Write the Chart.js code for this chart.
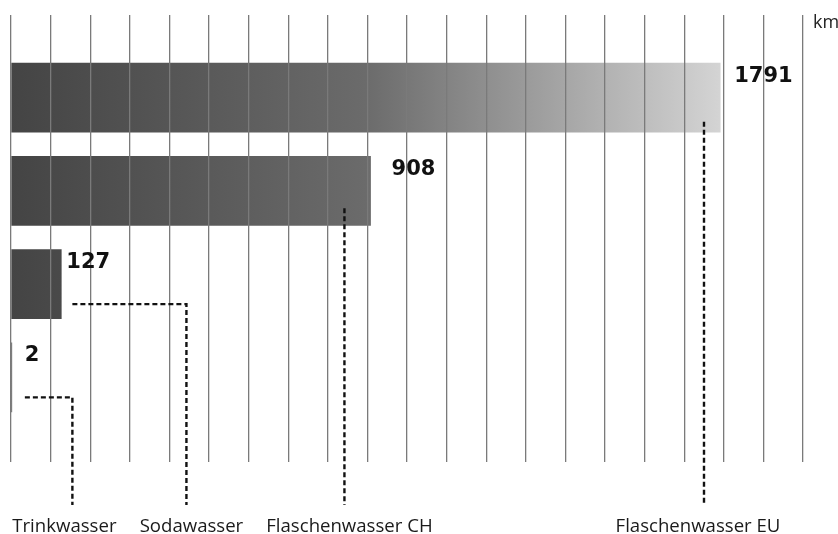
<!DOCTYPE html>
<html>
<head>
<meta charset="utf-8">
<script src="https://cdn.jsdelivr.net/npm/chart.js@4/dist/chart.umd.min.js"></script>
<style>
  html, body { margin: 0; padding: 0; background: #fff; }
  #wrap { width: 838px; height: 534px; }
</style>
</head>
<body>
<div id="wrap"><canvas id="distChart"></canvas></div>
<script>
// transport distance in km, top bar to bottom bar
const categories = ["Flaschenwasser EU", "Flaschenwasser CH", "Sodawasser", "Trinkwasser"];
const distances = [1791, 908, 127, 2];
const unitLabel = "km";
const axisMax = 2000;

// where each value label sits after its bar end (px)
const labelNudge = [14, 21, 5, 13];
// shift of each category name from its leader line (px)
const nameShift = [-6, 5, 5, -8];

// dashed leader lines, in km along the axis: start of the line, where it turns down
const leaders = [
  { from: 1750, down: 1750, yFrac: 0.85 },
  { from: 842, down: 842, yFrac: 0.75 },
  { from: 155, down: 443, yFrac: 0.79 },
  { from: 35, down: 155, yFrac: 0.79 },
];

const gridColor = "#7a7a7a";

function barGradient(context) {
  const chart = context.chart;
  const area = chart.chartArea;
  if (!area) return "#555";
  const x = chart.scales.x;
  const x0 = x.getPixelForValue(0);
  const x1 = x.getPixelForValue(Math.max(...distances));
  const g = chart.ctx.createLinearGradient(x0, 0, x1, 0);
  g.addColorStop(0, "#444444");
  g.addColorStop(0.5, "#6b6b6b");
  g.addColorStop(1, "#d4d4d4");
  return g;
}

const extrasPlugin = {
  id: "extras",
  afterDraw(chart) {
    const ctx = chart.ctx;
    const x = chart.scales.x;
    const meta = chart.getDatasetMeta(0);
    const bottomLine = 505;

    ctx.save();
    // leader lines
    ctx.strokeStyle = "#111";
    ctx.lineWidth = 2.4;
    ctx.setLineDash([5, 3]);
    meta.data.forEach((bar, i) => {
      const l = leaders[i];
      const top = bar.y - bar.height / 2;
      const y = top + bar.height * l.yFrac;
      const xa = x.getPixelForValue(l.from);
      const xb = x.getPixelForValue(l.down);
      ctx.beginPath();
      ctx.moveTo(xa, y);
      ctx.lineTo(xb, y);
      ctx.lineTo(xb, bottomLine);
      ctx.stroke();
    });
    ctx.setLineDash([]);

    // category names under the leaders
    ctx.fillStyle = "#1a1a1a";
    ctx.font = "18.6px 'Open Sans', sans-serif";
    ctx.textAlign = "center";
    ctx.textBaseline = "middle";
    meta.data.forEach((bar, i) => {
      const xb = x.getPixelForValue(leaders[i].down);
      ctx.fillText(categories[i], xb + nameShift[i], 527);
    });

    // values
    ctx.font = "bold 21px 'DejaVu Sans', sans-serif";
    ctx.textAlign = "left";
    ctx.fillStyle = "#111";
    meta.data.forEach((bar, i) => {
      const top = bar.y - bar.height / 2;
      ctx.fillText(String(distances[i]), bar.x + labelNudge[i], top + 13);
    });

    // unit
    ctx.font = "18px 'Open Sans', sans-serif";
    ctx.fillStyle = "#222";
    ctx.fillText(unitLabel, x.right + 10, 23);
    ctx.restore();
  },
};

new Chart(document.getElementById("distChart"), {
  type: "bar",
  data: {
    labels: categories,
    datasets: [
      {
        data: distances,
        backgroundColor: barGradient,
        borderWidth: 0,
        barThickness: 69,
      },
    ],
  },
  options: {
    indexAxis: "y",
    responsive: true,
    maintainAspectRatio: false,
    animation: false,
    layout: { padding: { left: 11, right: 35, top: 15, bottom: 72 } },
    scales: {
      x: {
        type: "linear",
        position: "bottom",
        min: 0,
        max: axisMax,
        ticks: { display: false, stepSize: 100 },
        grid: { color: gridColor, lineWidth: 1.3, tickLength: 38, z: 1 },
        border: { display: false },
      },
      xTop: {
        type: "linear",
        axis: "x",
        position: "top",
        min: 0,
        max: axisMax,
        ticks: { display: false, stepSize: 100 },
        grid: { color: gridColor, lineWidth: 1.3, tickLength: 36, drawOnChartArea: false },
        border: { display: false },
      },
      y: { display: false },
    },
    plugins: {
      legend: { display: false },
      tooltip: { enabled: false },
    },
  },
  plugins: [extrasPlugin],
});
</script>
</body>
</html>
